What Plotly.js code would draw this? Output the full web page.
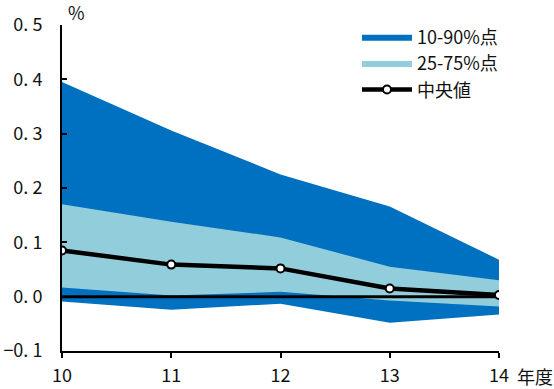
<!DOCTYPE html>
<html><head><meta charset="utf-8">
<script src="https://cdn.plot.ly/plotly-3.0.1.min.js"></script>
<style>body{margin:0}#c{width:554px;height:389px}</style>
</head><body><div id="c"></div>
<script>
const years = [10, 11, 12, 13, 14];
const yearLabels = ['10', '11', '12', '13', '14'];
const yTickVals = [-0.1, 0, 0.1, 0.2, 0.3, 0.4, 0.5];
const yTickLabels = ['−0. 1', '0. 0', '0. 1', '0. 2', '0. 3', '0. 4', '0. 5'];
const p10 = [-0.009, -0.024, -0.013, -0.048, -0.033];
const p90 = [0.395, 0.306, 0.225, 0.166, 0.068];
const p25 = [0.017, 0.002, 0.009, -0.007, -0.018];
const p75 = [0.170, 0.138, 0.109, 0.055, 0.030];
const median = [0.085, 0.059, 0.052, 0.015, 0.003];
const zero = [0, 0, 0, 0, 0];

const dark = '#0070C0', light = '#92CDDC';
const F = '"Noto Sans CJK JP", "Noto Sans", sans-serif';
const FS = 18;

const traces = [
  {x: years, y: p10, mode: 'lines', line: {width: 0, color: dark}, showlegend: false, hoverinfo: 'skip'},
  {x: years, y: p90, mode: 'lines', fill: 'tonexty', fillcolor: dark, line: {width: 0, color: dark}, name: '10-90%点'},
  {x: years, y: p25, mode: 'lines', line: {width: 0, color: light}, showlegend: false, hoverinfo: 'skip'},
  {x: years, y: p75, mode: 'lines', fill: 'tonexty', fillcolor: light, line: {width: 0, color: light}, name: '25-75%点'},
  {x: years, y: zero, mode: 'lines', line: {width: 3, color: '#000'}, showlegend: false, hoverinfo: 'skip'},
  {x: years, y: median, mode: 'lines+markers', line: {width: 4.5, color: '#000'},
   marker: {symbol: 'circle', size: 8, color: '#fff', line: {width: 2, color: '#000'}}, name: '中央値'}
];

const layout = {
  width: 554, height: 389,
  margin: {l: 62, r: 55, t: 25, b: 38},
  paper_bgcolor: '#fff', plot_bgcolor: '#fff',
  font: {family: F, size: FS, color: '#111'},
  showlegend: true,
  legend: {x: 0.675, y: 1.02, xanchor: 'left', yanchor: 'top', bgcolor: 'rgba(0,0,0,0)', traceorder: 'normal',
           font: {family: F, size: FS, color: '#111'}, itemwidth: 50, tracegroupgap: 0},
  xaxis: {range: [10, 14], tickvals: years, ticktext: yearLabels, showgrid: false, zeroline: false,
          showline: true, linecolor: '#000', linewidth: 2, ticks: 'outside', ticklen: 5, tickwidth: 2, tickcolor: '#000',
          ticklabelstandoff: 2, tickfont: {family: F, size: FS, color: '#111'}},
  yaxis: {range: [-0.1, 0.5], tickvals: yTickVals, ticktext: yTickLabels, showgrid: false, zeroline: false,
          showline: true, linecolor: '#000', linewidth: 2, ticks: 'inside', ticklen: 5, tickwidth: 2, tickcolor: '#000',
          ticklabelstandoff: 14, tickfont: {family: F, size: FS, color: '#111'}},
  annotations: [
    {text: '%', xref: 'paper', yref: 'paper', x: 0, y: 1, xanchor: 'left', yanchor: 'bottom', xshift: 4, yshift: -2, showarrow: false, font: {family: F, size: FS, color: '#111'}},
    {text: '年度', xref: 'paper', yref: 'paper', x: 1, y: 0, xanchor: 'left', yanchor: 'top', xshift: 16, yshift: -10, showarrow: false, font: {family: F, size: FS, color: '#111'}}
  ]
};
Plotly.newPlot('c', traces, layout, {displayModeBar: false, staticPlot: true});
</script></body></html>
